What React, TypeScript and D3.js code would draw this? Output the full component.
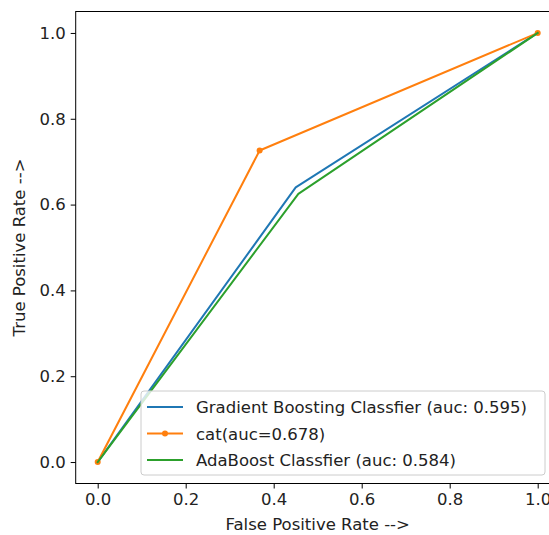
import React, { useEffect, useRef } from 'react';
import * as d3 from 'd3';

const ticks = [0, 0.2, 0.4, 0.6, 0.8, 1.0];
const gbFpr = [0, 0.45, 1];
const gbTpr = [0, 0.64, 1];
const catFpr = [0, 0.368, 1];
const catTpr = [0, 0.726, 1];
const adaFpr = [0, 0.456, 1];
const adaTpr = [0, 0.625, 1];
const seriesNames = [
    'Gradient Boosting Classfier (auc: 0.595)',
    'cat(auc=0.678)',
    'AdaBoost Classfier (auc: 0.584)',
];
const colors = ['#1f77b4', '#ff7f0e', '#2ca02c'];

export default function App() {
    const ref = useRef<SVGSVGElement>(null);

    useEffect(() => {
        const svg = d3.select(ref.current);
        svg.selectAll('*').remove();
        const font = 'DejaVu Sans, sans-serif';
        const fs = 16.5;

        const left = 75.7, right = 559.7, top = 11.5, bottom = 483.5;
        const x = d3.scaleLinear().domain([-0.05, 1.05]).range([left, right]);
        const y = d3.scaleLinear().domain([-0.05, 1.05]).range([bottom, top]);

        const series = [
            { fpr: gbFpr, tpr: gbTpr, marker: false },
            { fpr: catFpr, tpr: catTpr, marker: true },
            { fpr: adaFpr, tpr: adaTpr, marker: false },
        ];

        const line = d3.line<[number, number]>()
            .x((d) => x(d[0]))
            .y((d) => y(d[1]));

        series.forEach((s, i) => {
            const pts: [number, number][] = s.fpr.map((f, j) => [f, s.tpr[j]]);
            svg.append('path')
                .attr('d', line(pts))
                .attr('fill', 'none')
                .attr('stroke', colors[i])
                .attr('stroke-width', 2)
                .attr('stroke-linejoin', 'round')
                .attr('stroke-linecap', 'square');
            if (s.marker) {
                svg.selectAll(null)
                    .data(pts)
                    .enter()
                    .append('circle')
                    .attr('cx', (d) => x(d[0]))
                    .attr('cy', (d) => y(d[1]))
                    .attr('r', 3)
                    .attr('fill', colors[i]);
            }
        });

        // frame
        svg.append('rect')
            .attr('x', left).attr('y', top)
            .attr('width', right - left).attr('height', bottom - top)
            .attr('fill', 'none').attr('stroke', '#000').attr('stroke-width', 1);

        const xAxis = svg.append('g')
            .attr('transform', `translate(0,${bottom})`)
            .call(d3.axisBottom(x).tickValues(ticks).tickFormat(d3.format('.1f')).tickSize(5).tickPadding(5));
        const yAxis = svg.append('g')
            .attr('transform', `translate(${left},0)`)
            .call(d3.axisLeft(y).tickValues(ticks).tickFormat(d3.format('.1f')).tickSize(5).tickPadding(5));
        [xAxis, yAxis].forEach((g) => {
            g.select('.domain').remove();
            g.selectAll('text').attr('font-family', font).attr('font-size', fs).attr('fill', '#222');
            g.selectAll('line').attr('stroke', '#000');
        });

        svg.append('text')
            .attr('x', (left + right) / 2).attr('y', 530)
            .attr('text-anchor', 'middle')
            .attr('font-family', font).attr('font-size', fs).attr('fill', '#222')
            .text('False Positive Rate -->');
        svg.append('text')
            .attr('transform', `translate(25,${(top + bottom) / 2}) rotate(-90)`)
            .attr('text-anchor', 'middle')
            .attr('font-family', font).attr('font-size', fs).attr('fill', '#222')
            .text('True Positive Rate -->');

        // legend
        const lg = svg.append('g');
        lg.append('rect')
            .attr('x', 141).attr('y', 391)
            .attr('width', 404).attr('height', 84)
            .attr('rx', 3)
            .attr('fill', 'rgba(255,255,255,0.8)')
            .attr('stroke', '#ccc');
        seriesNames.forEach((name, i) => {
            const cy = 407 + i * 26.5;
            lg.append('line')
                .attr('x1', 147).attr('x2', 183)
                .attr('y1', cy).attr('y2', cy)
                .attr('stroke', colors[i]).attr('stroke-width', 2);
            if (i === 1) {
                lg.append('circle').attr('cx', 165).attr('cy', cy).attr('r', 3).attr('fill', colors[i]);
            }
            lg.append('text')
                .attr('x', 196).attr('y', cy + 6)
                .attr('font-family', font).attr('font-size', fs).attr('fill', '#222')
                .text(name);
        });
    }, []);

    return (
        <svg ref={ref} width={549} height={535} style={{ position: 'absolute', left: 0, top: 0 }} />
    );
}
